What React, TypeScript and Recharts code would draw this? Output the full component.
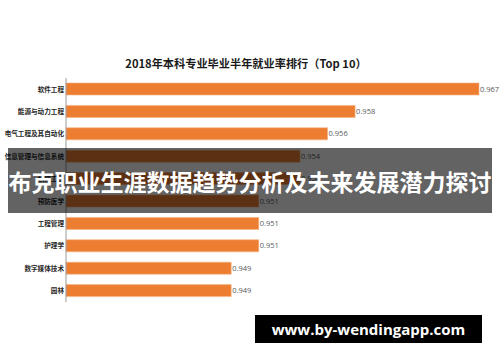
import React from "react";
import { BarChart, Bar, XAxis, YAxis, LabelList } from "recharts";

const majors = [
  "软件工程",
  "能源与动力工程",
  "电气工程及其自动化",
  "信息管理与信息系统",
  "机械工程",
  "预防医学",
  "工程管理",
  "护理学",
  "数字媒体技术",
  "园林",
];
const rates = [0.967, 0.958, 0.956, 0.954, 0.954, 0.951, 0.951, 0.951, 0.949, 0.949];
const titleText = "2018年本科专业毕业半年就业率排行（Top 10）";
const bannerText = "布克职业生涯数据趋势分析及未来发展潜力探讨";
const watermarkText = "www.by-wendingapp.com";

const data = majors.map((name, i) => ({ name, value: rates[i] }));
const CJK = '"Noto Sans CJK SC", "Noto Sans", sans-serif';

export default function App() {
  return (
    <div style={{ position: "absolute", left: 0, top: 0, width: 500, height: 362, background: "#fff", overflow: "hidden" }}>
      <div
        style={{
          position: "absolute",
          left: 0,
          width: 492,
          top: 54,
          textAlign: "center",
          fontFamily: CJK,
          fontWeight: 700,
          fontSize: 11.2,
          lineHeight: "18px",
          color: "#1a1a1a",
        }}
      >
        {titleText}
      </div>
      <BarChart
        width={500}
        height={362}
        data={data}
        layout="vertical"
        margin={{ top: 78, right: 21, bottom: 60, left: 0 }}
        barSize={12}
      >
        <XAxis type="number" domain={[0.937, 0.967]} hide />
        <YAxis
          type="category"
          dataKey="name"
          width={66}
          tickLine={false}
          tickSize={0}
          axisLine={{ stroke: "#9a9a9a" }}
          tickMargin={2}
          tick={{ fontSize: 6.6, fill: "#262626", fontFamily: CJK, fontWeight: 700 }}
          interval={0}
        />
        <Bar dataKey="value" fill="#ED7D31" stroke="#F4B183" strokeWidth={0.6} isAnimationActive={false}>
          <LabelList
            dataKey="value"
            position="right"
            offset={1}
            style={{ fontSize: 7.5, fill: "#595959", fontFamily: '"Open Sans", sans-serif' }}
          />
        </Bar>
      </BarChart>
      <div
        style={{
          position: "absolute",
          left: 8,
          top: 148,
          width: 484,
          height: 65,
          background: "rgba(0,0,0,0.61)",
          color: "#fff",
          fontFamily: CJK,
          fontWeight: 700,
          fontSize: 23,
          display: "flex",
          alignItems: "center",
          justifyContent: "center",
          whiteSpace: "nowrap",
        }}
      >
        {bannerText}
      </div>
      <div
        style={{
          position: "absolute",
          left: 255,
          top: 315,
          width: 227,
          height: 28,
          background: "#000",
          color: "#fff",
          fontFamily: '"Open Sans", sans-serif',
          fontWeight: 700,
          fontSize: 15,
          display: "flex",
          alignItems: "center",
          justifyContent: "center",
          whiteSpace: "nowrap",
        }}
      >
        {watermarkText}
      </div>
    </div>
  );
}
